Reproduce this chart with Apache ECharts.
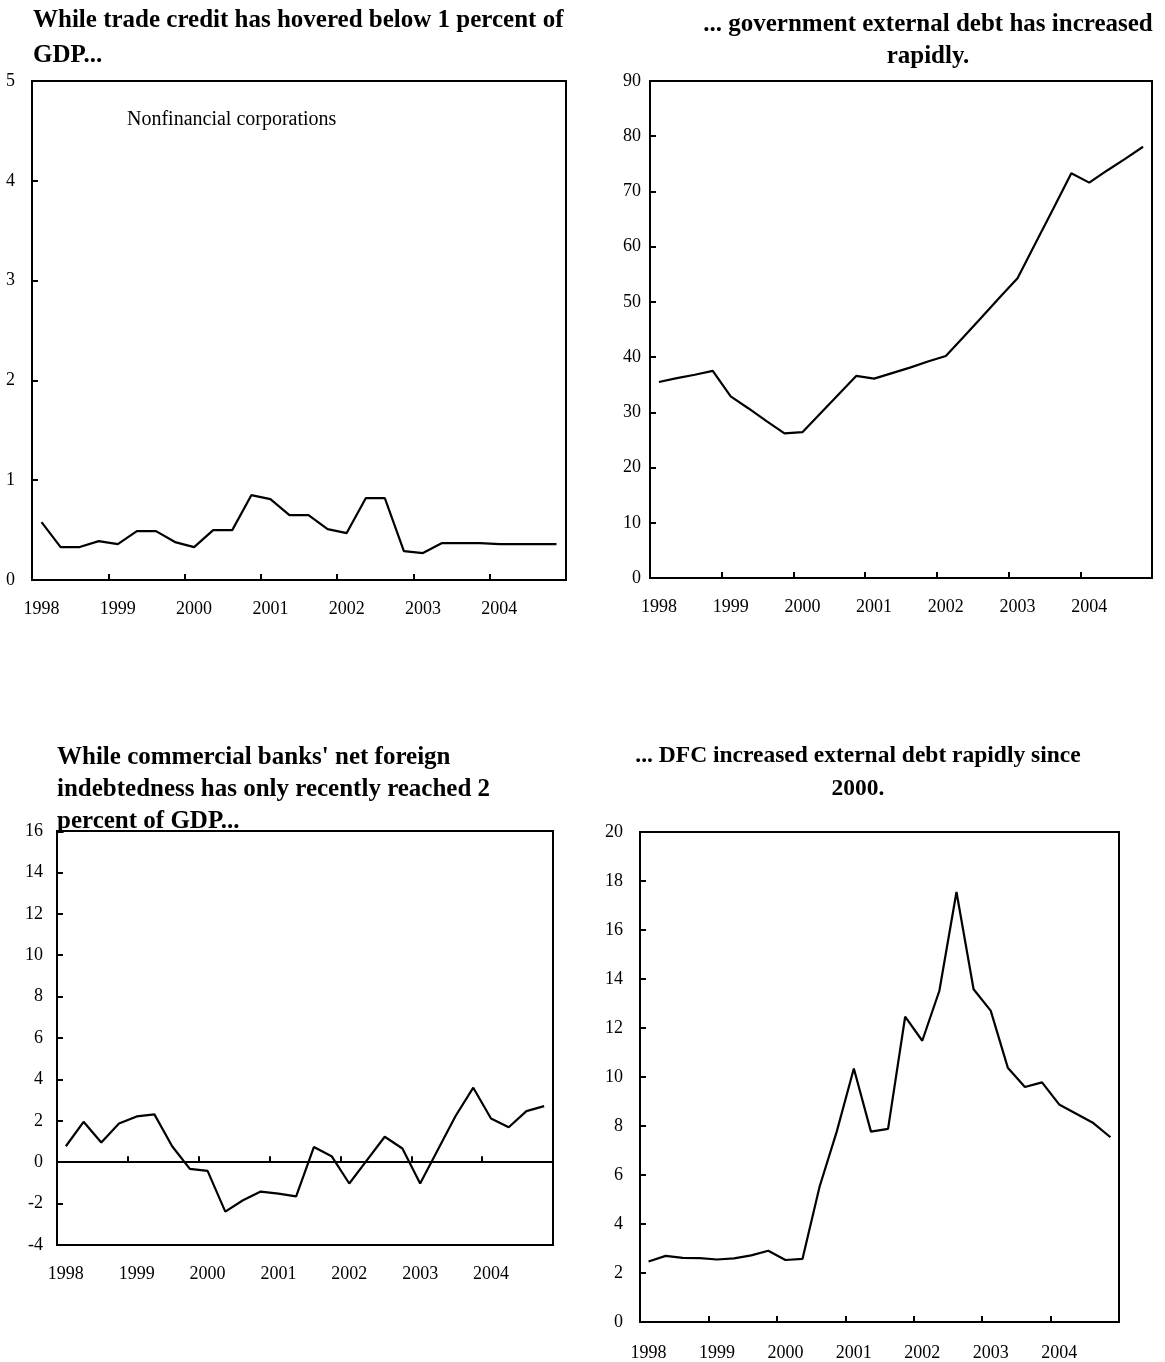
<!DOCTYPE html>
<html>
<head>
<meta charset="utf-8">
<script src="https://cdn.jsdelivr.net/npm/echarts@6/dist/echarts.min.js"></script>
<style>
html,body{margin:0;padding:0;background:#fff;}
#chart{width:1165px;height:1362px;}
</style>
</head>
<body>
<div id="chart"></div>
<script>
// Quarterly categories 1998Q1 .. 2004Q4
const years = ['1998','1999','2000','2001','2002','2003','2004'];
const quarters = [];
years.forEach(function(y){ for (let q = 1; q <= 4; q++) quarters.push(y + 'Q' + q); });

// Panel 1: trade credit, nonfinancial corporations (percent of GDP)
const tradeCredit = [0.58,0.33,0.33,0.39,0.36,0.49,0.49,0.38,0.33,0.50,0.50,0.85,
  0.81,0.65,0.65,0.51,0.47,0.82,0.82,0.29,0.27,0.37,0.37,0.37,0.36,0.36,0.36,0.36];
// Panel 2: government external debt
const govDebt = [35.5,36.2,36.8,37.5,32.9,30.7,28.4,26.2,26.4,29.8,33.2,36.6,
  36.1,37.1,38.1,39.2,40.2,43.7,47.2,50.8,54.3,60.6,66.9,73.3,71.6,73.8,75.9,78.1];
// Panel 3: commercial banks' net foreign indebtedness
const bankDebt = [0.77,1.95,0.95,1.87,2.21,2.31,0.77,-0.32,-0.42,-2.39,-1.84,-1.42,
  -1.52,-1.65,0.73,0.29,-1.03,0.1,1.23,0.66,-1.03,0.6,2.23,3.6,2.11,1.69,2.47,2.71];
// Panel 4: DFC external debt
const dfcDebt = [2.47,2.70,2.62,2.61,2.55,2.60,2.72,2.91,2.53,2.58,5.53,7.77,
  10.35,7.77,7.88,12.46,11.48,13.52,17.55,13.58,12.71,10.38,9.59,9.78,8.88,8.5,8.12,7.54];

const titles = [
  'While trade credit has hovered below 1 percent of\nGDP...',
  '... government external debt has increased\nrapidly.',
  "While commercial banks' net foreign\nindebtedness has only recently reached 2\npercent of GDP...",
  '... DFC increased external debt rapidly since\n2000.'
];
const annotation = 'Nonfinancial corporations';

const FONT = '"Liberation Serif", "Times New Roman", serif';

function xCat(gridIndex, opts) {
  opts = opts || {};
  return Object.assign({
    type: 'category',
    gridIndex: gridIndex,
    data: quarters,
    boundaryGap: true,
    position: 'bottom',
    axisLine: { show: false, onZero: false },
    axisTick: { show: true, inside: true, interval: 3, length: 6, lineStyle: { color: '#000', width: 2 } },
    axisLabel: { show: true, interval: 3, margin: 20, color: '#000', fontFamily: FONT, fontSize: 18,
      formatter: function (v) { return v.slice(0, 4); } },
    splitLine: { show: false }
  }, opts);
}
function yVal(gridIndex, min, max, interval, margin) {
  return {
    type: 'value',
    gridIndex: gridIndex,
    min: min, max: max, interval: interval,
    axisLine: { show: false },
    axisTick: { show: true, inside: true, length: 6, lineStyle: { color: '#000', width: 2 } },
    axisLabel: { color: '#000', fontFamily: FONT, fontSize: 18, margin: margin },
    splitLine: { show: false }
  };
}
function line(xi, yi, data) {
  return {
    type: 'line', xAxisIndex: xi, yAxisIndex: yi, data: data,
    showSymbol: false, symbol: 'none',
    lineStyle: { color: '#000', width: 2.2 }, itemStyle: { color: '#000' },
    animation: false
  };
}
const gridBase = { show: true, borderColor: '#000', borderWidth: 2, backgroundColor: 'transparent', containLabel: false };
const titleStyle = { fontFamily: FONT, fontWeight: 'bold', fontSize: 25, lineHeight: 32, color: '#000' };

const option = {
  backgroundColor: '#fff',
  animation: false,
  title: [
    { text: titles[0], left: 33, top: 3, padding: 0, textStyle: Object.assign({}, titleStyle, { lineHeight: 35 }) },
    { text: titles[1], left: 928, top: 9, padding: 0, textAlign: 'center', textStyle: Object.assign({}, titleStyle, { align: 'center' }) },
    { text: titles[2], left: 57, top: 742, padding: 0, textStyle: titleStyle },
    { text: titles[3], left: 858, top: 739, padding: 0, textAlign: 'center', textStyle: Object.assign({}, titleStyle, { align: 'center', fontSize: 23.5, lineHeight: 33 }) }
  ],
  grid: [
    Object.assign({ left: 32, top: 81, width: 534, height: 499 }, gridBase),
    Object.assign({ left: 650, top: 81, width: 502, height: 497 }, gridBase),
    Object.assign({ left: 57, top: 831, width: 496, height: 414 }, gridBase),
    Object.assign({ left: 640, top: 832, width: 479, height: 490 }, gridBase)
  ],
  xAxis: [
    xCat(0),
    xCat(1),
    xCat(2, { axisTick: { show: false } }),
    xCat(2, {
      axisLine: { show: true, onZero: true, lineStyle: { color: '#000', width: 2 } },
      axisLabel: { show: false }
    }),
    xCat(3, { axisLabel: { show: true, interval: 3, margin: 22, color: '#000', fontFamily: FONT, fontSize: 18,
      formatter: function (v) { return v.slice(0, 4); } } })
  ],
  yAxis: [
    yVal(0, 0, 5, 1, 17),
    yVal(1, 0, 90, 10, 9),
    yVal(2, -4, 16, 2, 14),
    yVal(3, 0, 20, 2, 17)
  ],
  graphic: [
    { type: 'text', left: 127, top: 110, style: { text: annotation, fill: '#000', font: '20px ' + FONT } }
  ],
  series: [
    line(0, 0, tradeCredit),
    line(1, 1, govDebt),
    line(2, 2, bankDebt),
    line(4, 3, dfcDebt)
  ]
};

const chart = echarts.init(document.getElementById('chart'), null, { renderer: 'canvas' });
chart.setOption(option);
</script>
</body>
</html>
